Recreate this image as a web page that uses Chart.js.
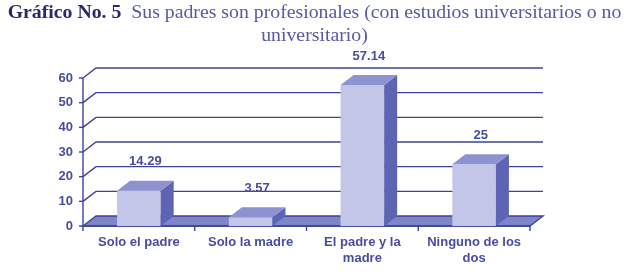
<!DOCTYPE html>
<html>
<head>
<meta charset="utf-8">
<script src="https://cdn.jsdelivr.net/npm/chart.js@4"></script>
<style>
  body { margin: 0; background: #fff; }
  #wrap { position: relative; width: 629px; height: 275px; }
  #titulo {
    position: absolute; left: 0; top: 0; width: 629px; text-align: center;
    font-family: "Liberation Serif", serif; font-size: 19.8px; line-height: 23px;
    color: #555aa3; white-space: nowrap;
  }
  #titulo b { color: #272b6c; }
  canvas { position: absolute; left: 0; top: 0; }
</style>
</head>
<body>
<div id="wrap">
  <canvas id="grafico" width="629" height="275"></canvas>
  <div id="titulo"><b>Gráfico No. 5</b>&nbsp; Sus padres son profesionales (con estudios universitarios o no<br>universitario)</div>
</div>
<script>
const categorias = [["Solo el padre"], ["Solo la madre"], ["El padre y la", "madre"], ["Ninguno de los", "dos"]];
const porcentajes = [14.29, 3.57, 57.14, 25];
const marcasY = [0, 10, 20, 30, 40, 50, 60];

// colores y profundidad del efecto 3D
const azulLinea = "#3d4399";
const azulTexto = "#474d9e";
const frente = "#c3c6e8";
const lado = "#5d64b4";
const tapa = "#8d93d0";
const piso = "#7f86c8";
const dx = 13, dy = -10;

const fondo3d = {
  id: "fondo3d",
  beforeDatasetsDraw(chart) {
    const { ctx, chartArea: a, scales: { x, y } } = chart;
    const y0 = y.getPixelForValue(0);
    ctx.save();
    ctx.strokeStyle = azulLinea;
    ctx.lineWidth = 1.4;

    // piso
    ctx.fillStyle = piso;
    ctx.beginPath();
    ctx.moveTo(a.left, y0);
    ctx.lineTo(a.right, y0);
    ctx.lineTo(a.right + dx, y0 + dy);
    ctx.lineTo(a.left + dx, y0 + dy);
    ctx.closePath();
    ctx.fill();
    ctx.stroke();

    // lineas de la pared del fondo
    y.ticks.forEach(t => {
      const py = y.getPixelForValue(t.value);
      if (t.value !== 0) {
        ctx.beginPath();
        ctx.moveTo(a.left, py);
        ctx.lineTo(a.left + dx, py + dy);
        ctx.lineTo(a.right + dx, py + dy);
        ctx.stroke();
      }
      ctx.beginPath();
      ctx.moveTo(a.left - 4, py);
      ctx.lineTo(a.left, py);
      ctx.stroke();
    });

    // eje y
    ctx.beginPath();
    ctx.moveTo(a.left, a.top);
    ctx.lineTo(a.left, y0);
    ctx.stroke();

    // eje x con marcas entre categorias
    ctx.beginPath();
    ctx.moveTo(a.left, y0);
    ctx.lineTo(a.right, y0);
    ctx.stroke();
    const paso = (a.right - a.left) / categorias.length;
    for (let i = 0; i <= categorias.length; i++) {
      const px = a.left + paso * i;
      ctx.beginPath();
      ctx.moveTo(px, y0);
      ctx.lineTo(px, y0 + 5);
      ctx.stroke();
    }
    ctx.restore();
  },
  afterDatasetsDraw(chart) {
    const { ctx } = chart;
    ctx.save();
    chart.getDatasetMeta(0).data.forEach((b, i) => {
      const l = b.x - b.width / 2, r = b.x + b.width / 2, t = b.y, base = b.base;
      // lado derecho
      ctx.fillStyle = lado;
      ctx.beginPath();
      ctx.moveTo(r, t);
      ctx.lineTo(r + dx, t + dy);
      ctx.lineTo(r + dx, base + dy);
      ctx.lineTo(r, base);
      ctx.closePath();
      ctx.fill();
      // tapa
      ctx.fillStyle = tapa;
      ctx.beginPath();
      ctx.moveTo(l, t);
      ctx.lineTo(l + dx, t + dy);
      ctx.lineTo(r + dx, t + dy);
      ctx.lineTo(r, t);
      ctx.closePath();
      ctx.fill();
      // etiqueta del valor
      ctx.fillStyle = azulTexto;
      ctx.font = "bold 13px 'Liberation Sans', Arial, sans-serif";
      ctx.textAlign = "center";
      ctx.textBaseline = "middle";
      ctx.fillText(String(porcentajes[i]), b.x + dx / 2, t - 29);
    });
    ctx.restore();
  }
};

const fuenteEje = { family: "'Liberation Sans', Arial, sans-serif", size: 13, weight: "bold", lineHeight: 1.25 };

new Chart(document.getElementById("grafico"), {
  type: "bar",
  data: {
    labels: categorias,
    datasets: [{
      label: "Porcentaje",
      data: porcentajes,
      backgroundColor: frente,
      borderWidth: 0,
      categoryPercentage: 1,
      barPercentage: 0.39
    }]
  },
  options: {
    responsive: false,
    animation: false,
    layout: { padding: { left: 0, right: 99, top: 78, bottom: 0 } },
    plugins: { legend: { display: false }, tooltip: { enabled: false } },
    scales: {
      x: {
        grid: { display: false, drawTicks: false },
        border: { display: false },
        ticks: { color: azulTexto, font: fuenteEje, padding: 8, maxRotation: 0 },
        afterFit(s) { s.height = 49; }
      },
      y: {
        min: 0,
        max: 60,
        grid: { display: false, drawTicks: false },
        border: { display: false },
        ticks: { color: azulTexto, font: fuenteEje, padding: 10 },
        afterBuildTicks(s) { s.ticks = marcasY.map(v => ({ value: v })); },
        afterFit(s) { s.width = 83; }
      }
    }
  },
  plugins: [fondo3d]
});
</script>
</body>
</html>
